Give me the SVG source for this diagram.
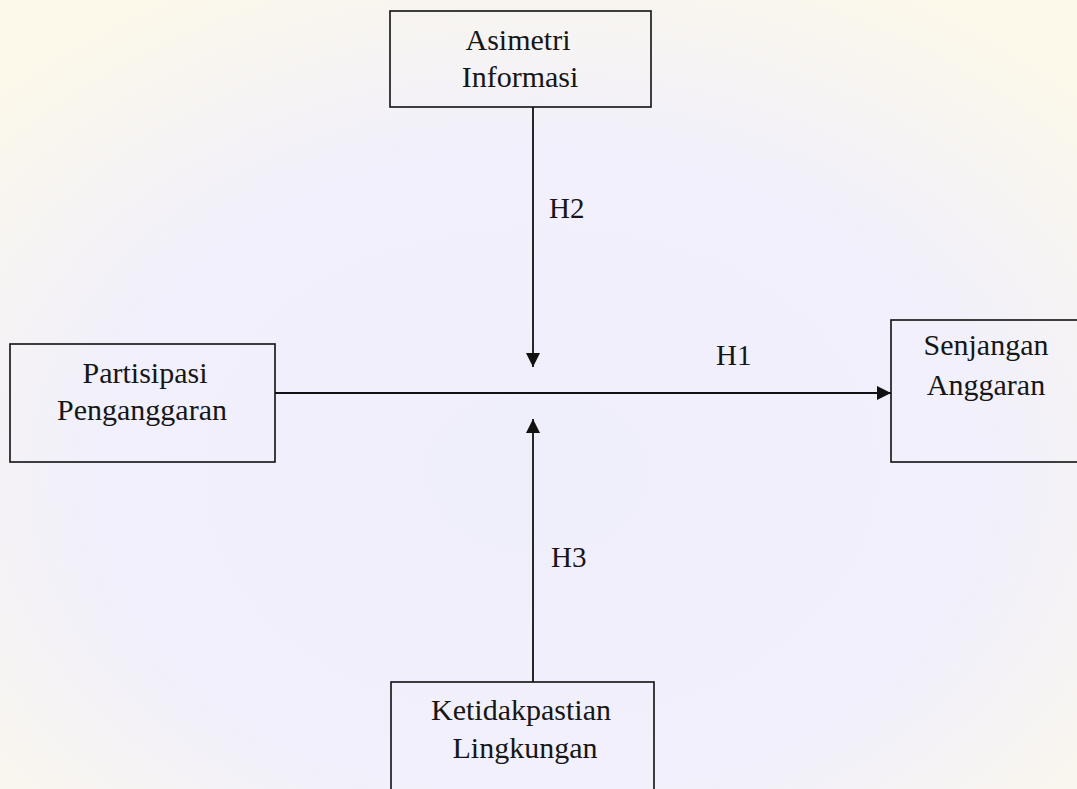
<svg xmlns="http://www.w3.org/2000/svg" width="1077" height="789" viewBox="0 0 1077 789">
  <defs>
    <radialGradient id="bg" cx="50%" cy="60%" r="70%">
      <stop offset="0%" stop-color="#efeefb"/>
      <stop offset="60%" stop-color="#f1f0fb"/>
      <stop offset="100%" stop-color="#fcf8ea"/>
    </radialGradient>
    <marker id="arr" viewBox="0 0 14 14" refX="14" refY="7" markerWidth="14" markerHeight="14" markerUnits="userSpaceOnUse" orient="auto">
      <path d="M0,0 L14,7 L0,14 Z" fill="#111"/>
    </marker>
  </defs>
  <style>
    .box { fill: none; stroke: #111; stroke-width: 1.6; }
    .lbl { font-family: "Liberation Serif", "Times New Roman", serif; font-size: 30px; fill: #161616; text-anchor: middle; }
    .h { font-family: "Liberation Serif", "Times New Roman", serif; font-size: 29px; fill: #161616; }
    .conn { stroke: #111; stroke-width: 1.8; fill: none; }
  </style>
  <rect x="0" y="0" width="1077" height="789" fill="url(#bg)"/>

  <g id="connectors">
    <line class="conn" x1="275" y1="393" x2="891" y2="393" marker-end="url(#arr)"/>
    <line class="conn" x1="533" y1="107" x2="533" y2="367" marker-end="url(#arr)"/>
    <line class="conn" x1="533" y1="682" x2="533" y2="419" marker-end="url(#arr)"/>
    <text class="h" x="716" y="365">H1</text>
    <text class="h" x="549" y="218">H2</text>
    <text class="h" x="551" y="567">H3</text>
  </g>

  <g id="asimetri">
    <rect class="box" x="390" y="11" width="261" height="96"/>
    <text class="lbl" x="518" y="50">Asimetri</text>
    <text class="lbl" x="520" y="87">Informasi</text>
  </g>

  <g id="partisipasi">
    <rect class="box" x="10" y="344" width="265" height="118"/>
    <text class="lbl" x="145" y="383">Partisipasi</text>
    <text class="lbl" x="142" y="420">Penganggaran</text>
  </g>

  <g id="senjangan">
    <rect class="box" x="891" y="320" width="200" height="142"/>
    <text class="lbl" x="986" y="355">Senjangan</text>
    <text class="lbl" x="986" y="395">Anggaran</text>
  </g>

  <g id="ketidakpastian">
    <rect class="box" x="391" y="682" width="263" height="120"/>
    <text class="lbl" x="521" y="720">Ketidakpastian</text>
    <text class="lbl" x="525" y="758">Lingkungan</text>
  </g>
</svg>
